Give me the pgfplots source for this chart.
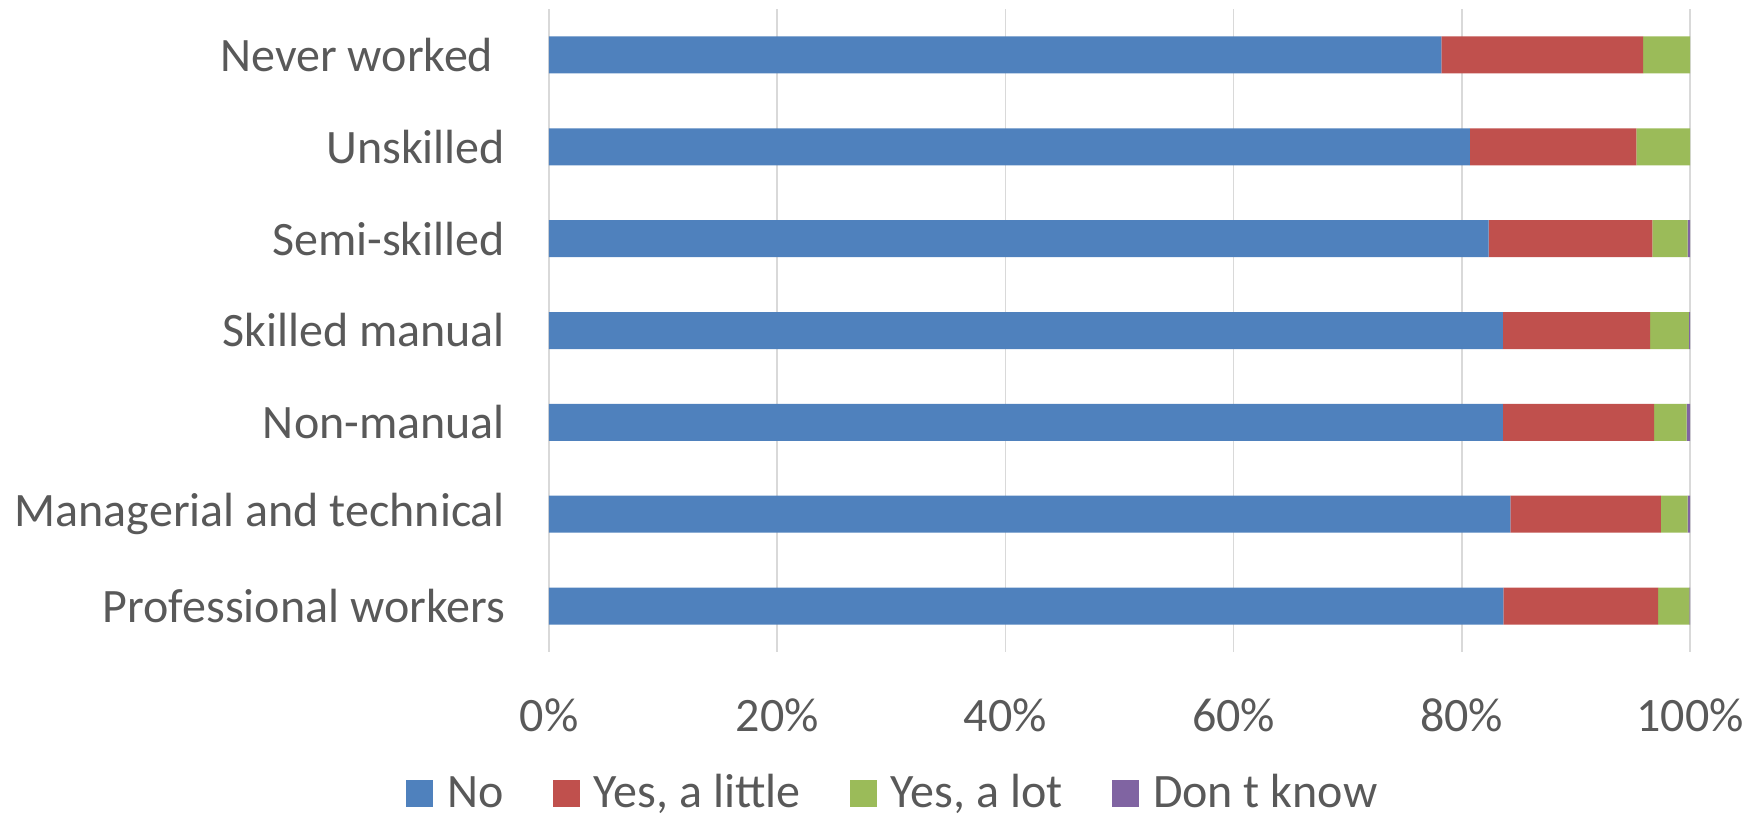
\documentclass[border=0pt]{standalone}
\usepackage{fontspec}
\setmainfont{Carlito}
\usepackage{pgfplots}
\pgfplotsset{compat=1.18}
\definecolor{cNo}{HTML}{4F81BD}
\definecolor{cLittle}{HTML}{C0504D}
\definecolor{cLot}{HTML}{9BBB59}
\definecolor{cDK}{HTML}{8064A2}
\definecolor{txt}{HTML}{595959}
\definecolor{gridc}{HTML}{D9D9D9}
\begin{document}
\begin{tikzpicture}
\useasboundingbox (-274.5pt,-83pt) rectangle (606.5pt,326pt);
\begin{axis}[
  at={(0,0)}, anchor=south west,
  scale only axis,
  width=570.5pt, height=321.5pt,
  xbar stacked,
  bar width=18.5pt,
  xmin=0, xmax=100,
  ymin=-0.5, ymax=6.5,
  xtick={0,20,40,60,80,100},
  xticklabels={0\%,20\%,40\%,60\%,80\%,100\%},
  ytick={0,1,2,3,4,5,6},
  yticklabels={Professional workers,Managerial and technical,Non-manual,Skilled manual,Semi-skilled,Unskilled,{Never worked\kern6pt}},
  major tick length=0pt,
  axis line style={draw=none},
  xmajorgrids,
  grid style={gridc, line width=0.75pt},
  tick label style={font=\fontsize{24}{28.8}\selectfont, text=txt, inner sep=0pt},
  xticklabel style={anchor=center, yshift=-31.5pt},
  yticklabel style={anchor=east, xshift=-21.8pt},
  legend style={
    at={(0.3003,-0.2205)}, anchor=center,
    draw=none, fill=none, inner sep=0pt,
    font=\fontsize{24}{28.8}\selectfont, text=txt,
    legend columns=-1,
    nodes={inner sep=0pt, text height=13.7pt, text depth=0pt},
    /tikz/every odd column/.append style={column sep=7pt},
    /tikz/every even column/.append style={column sep=24.5pt},
  },
  legend image code/.code={\fill[#1] (0pt,-6.85pt) rectangle (13.7pt,6.85pt);},
]
\addplot[fill=cNo, draw=none] coordinates {(83.65,0) (84.25,1) (83.6,2) (83.6,3) (82.35,4) (80.7,5) (78.2,6)};
\addplot[fill=cLittle, draw=none] coordinates {(13.55,0) (13.2,1) (13.25,2) (12.9,3) (14.35,4) (14.6,5) (17.7,6)};
\addplot[fill=cLot, draw=none] coordinates {(2.75,0) (2.35,1) (2.85,2) (3.4,3) (3.1,4) (4.7,5) (4.1,6)};
\addplot[fill=cDK, draw=none] coordinates {(0.05,0) (0.2,1) (0.3,2) (0.1,3) (0.2,4) (0,5) (0,6)};
\legend{No,{Yes, a little},{Yes, a lot},Don t know}
\end{axis}
\end{tikzpicture}
\end{document}
